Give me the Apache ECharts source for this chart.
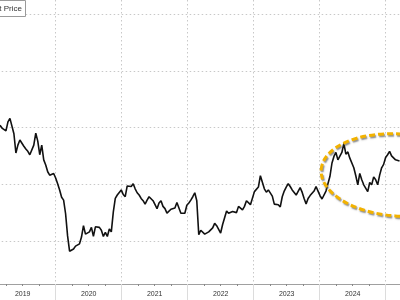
<!DOCTYPE html>
<html><head><meta charset="utf-8">
<script src="https://cdn.jsdelivr.net/npm/echarts@6/dist/echarts.min.js"></script>
<style>html,body{margin:0;padding:0;background:#fff}#c{width:400px;height:300px}</style>
</head><body><div id="c"></div>
<script>
// ---- data ----
const startDate = '2019-02-27';
const stepDays = 11;
const values = [
30.4,29.9,29.6,29.4,31.0,31.6,31.9,28.9,25.5,26.9,
27.8,28.1,26.7,26.2,25.8,25.2,25.2,26.9,29.0,27.6,
25.2,26.9,24.3,23.4,22.2,21.6,21.3,21.9,21.1,20.1,
19.0,17.7,17.2,14.8,10.9,8.2,8.4,8.6,9.1,9.2,
9.5,10.7,12.7,11.2,11.1,11.6,12.4,10.8,12.5,12.3,
12.4,11.9,10.8,11.5,10.8,12.1,11.6,15.1,17.5,18.1,
18.4,19.0,18.2,17.8,19.7,19.6,19.6,20.1,19.2,18.5,
18.1,17.5,17.1,16.5,17.2,17.8,17.7,17.1,16.4,15.7,
16.7,17.1,16.1,15.7,14.9,15.2,15.6,15.5,15.8,16.8,
17.0,14.9,14.9,14.9,16.3,16.7,17.2,17.8,18.5,17.1,
11.1,11.9,12.1,11.2,11.5,11.6,11.8,12.3,13.1,12.7,
12.5,11.4,12.9,14.1,15.3,14.9,14.9,15.2,15.2,15.0,
16.1,15.8,15.5,16.1,17.1,17.2,16.4,16.4,18.7,18.6,
19.5,21.5,21.2,19.2,18.6,19.0,19.1,17.9,16.5,16.7,
16.4,16.0,17.8,18.8,19.5,20.1,19.6,19.0,19.3,18.1,
18.4,19.4,18.6,17.5,16.5,17.5,18.0,18.3,18.8,19.6,
18.8,18.0,17.4,17.6,18.8,18.9,21.4,23.7,24.9,25.6,
24.3,24.3,25.6,27.2,25.3,25.7,24.6,24.3,22.9,21.5,
19.9,21.9,20.8,19.9,20.1,18.7,20.3,19.9,21.3,20.8,
19.9,21.6,22.9,23.5,24.7,25.2,25.8,25.0,25.1,24.3,
24.0,24.1
];
const years = ['2019','2020','2021','2022','2023','2024','2025'];
const gridValues = [10,20,30,40,50];
const seriesName = 'Spot Price';

// ---- build ----
const DAY = 86400000;
const t0 = Date.parse(startDate + 'T00:00:00Z');
const base = Date.UTC(2019,0,1);
const toYear = t => 2019 + (t - base) / (365.25 * DAY);
const data = values.map((v, i) => [toYear(t0 + i * stepDays * DAY), v]);

const chart = echarts.init(document.getElementById('c'), null, {renderer: 'canvas'});
const dotted = [1.5, 2.5];
chart.setOption({
  animation: false,
  backgroundColor: '#fff',
  grid: {left: -10.3, right: -51.7, top: 0, bottom: 16, containLabel: false, outerBoundsMode: 'none'},
  xAxis: [{
    type: 'value', min: 2019, max: 2026, interval: 1, position: 'bottom',
    axisLine: {show: true, onZero: false, lineStyle: {color: '#a0a0a0', width: 1}},
    axisTick: {show: true, length: 16, lineStyle: {color: '#dcdcdc'}},
    minorTick: {show: true, splitNumber: 4, length: 2, lineStyle: {color: '#888'}},
    axisLabel: {show: false},
    splitLine: {show: true, lineStyle: {color: '#c8c8c8', type: dotted, width: 1}}
  }, {
    type: 'category', data: years, position: 'bottom', boundaryGap: true,
    axisLine: {show: false}, axisTick: {show: false}, splitLine: {show: false},
    axisLabel: {show: true, fontSize: 7, color: '#333', margin: 7, fontFamily: 'Liberation Sans'}
  }],
  yAxis: {
    type: 'value', min: 2.42, max: 52.47,
    axisLine: {show: false}, axisTick: {show: false}, axisLabel: {show: false}, splitLine: {show: false}
  },
  series: [{
    name: seriesName, type: 'line', data: data, xAxisIndex: 0,
    showSymbol: false, symbol: 'none',
    lineStyle: {color: '#111', width: 1.6},
    z: 3,
    markLine: {
      silent: true, symbol: 'none', label: {show: false},
      lineStyle: {color: '#c8c8c8', type: dotted, width: 1},
      data: gridValues.map(v => ({yAxis: v})),
      z: 1
    }
  }],
  graphic: [
    {type: 'rect', z: 10, shape: {x: -45.5, y: 0.5, width: 71, height: 16},
     style: {fill: '#fff', stroke: '#9a9a9a', lineWidth: 1}},
    {type: 'text', z: 11, x: 22, y: 9,
     style: {text: seriesName, fill: '#333', font: '8px "Liberation Sans"', align: 'right', verticalAlign: 'middle', textAlign: 'right', textVerticalAlign: 'middle'}},
    {type: 'ellipse', z: 12, x: 398, y: 175, rotation: -0.07,
     shape: {cx: 0, cy: 0, rx: 77, ry: 41},
     style: {fill: 'none', stroke: '#f2b200', lineWidth: 3, lineDash: [6, 3],
             shadowColor: 'rgba(90,90,90,0.7)', shadowBlur: 1.5, shadowOffsetX: 1, shadowOffsetY: 1.5}}
  ]
});
</script></body></html>
